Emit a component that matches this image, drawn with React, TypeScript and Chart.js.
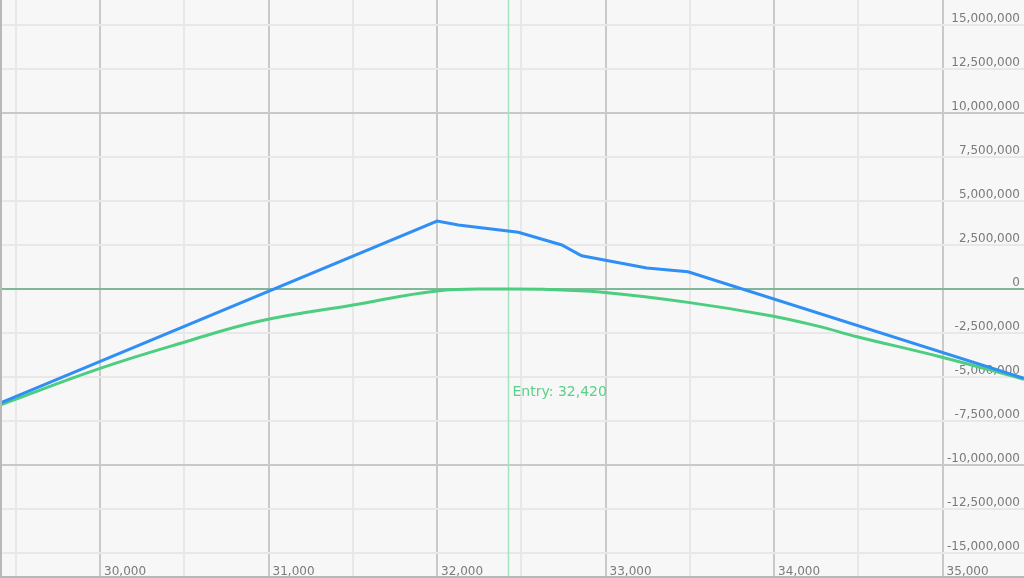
import React, { useEffect, useRef } from "react";
import { Chart, registerables } from "chart.js";

Chart.register(...registerables);

// Payoff at expiry (blue)
const expiryPrices = [29406, 32000, 32126, 32482, 32740, 32858, 33244, 33489, 35483];
const expiryValues = [-6480000, 3860000, 3640000, 3220000, 2500000, 1890000, 1190000, 980000, -5080000];

// Current P&L curve (green)
const currentPrices = [29406, 30000, 30504, 30949, 31501, 31999, 32355, 32630, 32967, 33489, 33988, 34272, 34492, 34985, 35483];
const currentValues = [-6590000, -4510000, -3010000, -1820000, -910000, -110000, 0, -20000, -170000, -760000, -1530000, -2140000, -2710000, -3850000, -5130000];

const entryPrice = 32420;
const xBounds = [29406, 35483];
const yBounds = [-16420000, 16420000];
const xStep = 500;
const yStep = 2500000;
const xMajor = 1000;
const yMajor = 10000000;

const fmt = (v: number) => Math.round(v).toLocaleString("en-US");

const FONT = '"DejaVu Sans", Verdana, sans-serif';

const stepTicks = (step: number) => (s: any) => {
  const t: any[] = [];
  for (let v = Math.ceil(s.min / step) * step; v <= s.max; v += step) t.push({ value: v });
  s.ticks = t;
};

const overlay = {
  id: "overlay",
  beforeDatasetsDraw(chart: any) {
    const { ctx, chartArea, scales } = chart;
    const x = scales.x;
    const y = scales.y;
    ctx.save();
    ctx.fillStyle = "#7a7a7a";
    ctx.font = `12px ${FONT}`;
    ctx.textBaseline = "alphabetic";
    ctx.textAlign = "right";
    y.ticks.forEach((t: any) => {
      const py = y.getPixelForValue(t.value);
      ctx.fillText(fmt(t.value), chartArea.right - 4, py - 3);
    });
    ctx.textAlign = "left";
    x.ticks.forEach((t: any) => {
      if (Math.abs(t.value % xMajor) > 1e-6) return;
      const px = x.getPixelForValue(t.value);
      ctx.fillText(fmt(t.value), px + 4, chartArea.bottom - 3);
    });
    const ex = Math.round(x.getPixelForValue(entryPrice)) + 0.5;
    ctx.strokeStyle = "#a6e4bc";
    ctx.lineWidth = 1.5;
    ctx.beginPath();
    ctx.moveTo(ex, chartArea.top);
    ctx.lineTo(ex, chartArea.bottom);
    ctx.stroke();
    ctx.fillStyle = "#5cd088";
    ctx.font = `14px ${FONT}`;
    ctx.fillText("Entry: " + fmt(entryPrice), ex + 4, chartArea.top + (chartArea.bottom - chartArea.top) * 0.685);
    ctx.restore();
  },
  afterDraw(chart: any) {
    const { ctx, chartArea } = chart;
    ctx.save();
    ctx.strokeStyle = "#b8b8b8";
    ctx.lineWidth = 2;
    ctx.beginPath();
    ctx.moveTo(chartArea.left + 1, chartArea.top);
    ctx.lineTo(chartArea.left + 1, chartArea.bottom - 1);
    ctx.lineTo(chartArea.right, chartArea.bottom - 1);
    ctx.stroke();
    ctx.restore();
  },
};

const bg = {
  id: "bg",
  beforeDraw(chart: any) {
    const { ctx, width, height } = chart;
    ctx.save();
    ctx.fillStyle = "#f7f7f7";
    ctx.fillRect(0, 0, width, height);
    ctx.restore();
  },
};

export default function App() {
  const ref = useRef<HTMLCanvasElement | null>(null);
  useEffect(() => {
    document.body.style.margin = "0";
    if (!ref.current) return;
    const chart = new Chart(ref.current, {
      type: "line",
      data: {
        datasets: [
          {
            label: "Expiry",
            data: expiryPrices.map((p, i) => ({ x: p, y: expiryValues[i] })),
            borderColor: "#2f8ff5",
            borderWidth: 3,
            pointRadius: 0,
            tension: 0,
            fill: false,
            order: 1,
          },
          {
            label: "Current",
            data: currentPrices.map((p, i) => ({ x: p, y: currentValues[i] })),
            borderColor: "#4ccd80",
            borderWidth: 3,
            pointRadius: 0,
            tension: 0.4,
            fill: false,
            order: 2,
          },
        ],
      },
      options: {
        animation: false,
        responsive: false,
        devicePixelRatio: 1,
        layout: { padding: 0 },
        plugins: { legend: { display: false }, tooltip: { enabled: false } },
        scales: {
          x: {
            type: "linear",
            min: xBounds[0],
            max: xBounds[1],
            border: { display: false },
            ticks: { display: false },
            afterBuildTicks: stepTicks(xStep),
            grid: {
              drawTicks: false,
              lineWidth: 2,
              color: (c: any) => (c.tick && Math.abs(c.tick.value % xMajor) < 1e-6 ? "#c9c9c9" : "#e8e8e8"),
            },
            afterFit: (s: any) => {
              s.height = 0;
            },
          },
          y: {
            type: "linear",
            min: yBounds[0],
            max: yBounds[1],
            border: { display: false },
            ticks: { display: false },
            afterBuildTicks: stepTicks(yStep),
            grid: {
              drawTicks: false,
              lineWidth: 2,
              color: (c: any) => {
                if (!c.tick) return "#e8e8e8";
                if (c.tick.value === 0) return "#80b79b";
                return Math.abs(c.tick.value % yMajor) < 1e-6 ? "#c9c9c9" : "#e8e8e8";
              },
            },
            afterFit: (s: any) => {
              s.width = 0;
            },
          },
        },
      },
      plugins: [bg, overlay],
    } as any);
    return () => chart.destroy();
  }, []);
  return (
    <div style={{ width: 1024, height: 578 }}>
      <canvas ref={ref} width={1024} height={578} />
    </div>
  );
}
